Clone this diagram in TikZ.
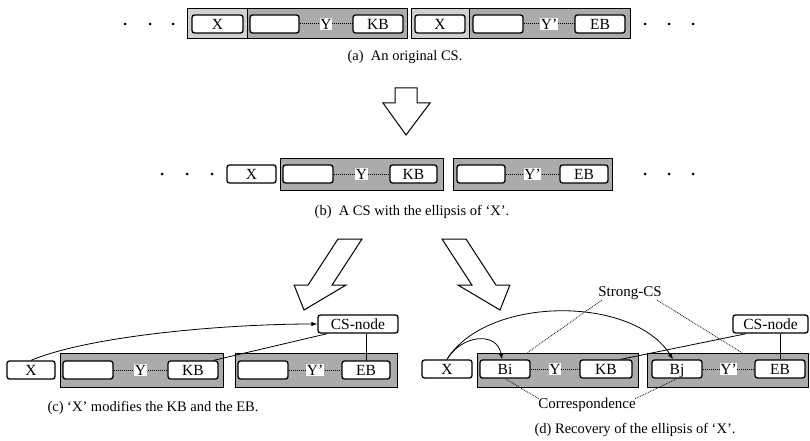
\documentclass[tikz,border=0pt]{standalone}
\usepackage{fontspec}
\setmainfont{Liberation Serif}
\usetikzlibrary{arrows.meta,calc}
\begin{document}
\begin{tikzpicture}[x=1pt,y=-1pt,
  every node/.style={font=\fontsize{15}{18}\selectfont},
  caption/.style={font=\fontsize{14.5}{17}\selectfont},
  cell/.style={draw, line width=1.3pt, rounded corners=2.5pt, fill=white, minimum height=18pt, minimum width=50pt, inner sep=0pt, text height=10.3pt, text depth=0pt, font=\fontsize{15.5}{18}\selectfont},
  csbox/.style={draw, line width=1pt, fill=black!33, minimum height=34pt, inner sep=0pt},
  xcellbox/.style={draw, line width=1pt, fill=black!18, minimum height=30pt, inner sep=0pt},
  ylab/.style={fill=white, inner sep=0.6pt, text height=10.3pt, text depth=0pt, font=\fontsize{15.5}{18}\selectfont},
  ydots/.style={densely dotted, line width=1pt},
  dotmark/.style={circle, fill=black, inner sep=0pt, minimum size=3pt},
  link/.style={line width=0.8pt},
  tipped/.style={-{Latex[length=6pt,width=4.5pt]}},
  dotlink/.style={densely dotted, line width=0.8pt},
  blockarrow/.style={draw, line width=1pt, fill=white, line join=miter},
]
\useasboundingbox (0,0) rectangle (810,441);

% ---------- (a) ----------
\foreach \i/\x in {1/125,2/150,3/173} \node[dotmark] (adl\i) at (\x,24) {};
\foreach \i/\x in {1/645,2/669,3/693} \node[dotmark] (adr\i) at (\x,24) {};
\node[xcellbox, minimum width=60pt] (aXc1) at (217,24) {};
\node[csbox, minimum height=30pt, minimum width=160pt] (aC1) at (327,24) {};
\node[xcellbox, minimum width=58pt] (aXc2) at (440,24) {};
\node[csbox, minimum height=30pt, minimum width=161pt] (aC2) at (549.5,24) {};
\node[cell, minimum width=51pt] (aX1) at (217.5,24) {X};
\node[cell, minimum width=49pt] (aE1) at (274.5,24) {};
\node[cell] (aKB) at (378,24) {KB};
\node[cell] (aX2) at (440,24) {X};
\node[cell] (aE2) at (498,24) {};
\node[cell] (aEB) at (600,24) {EB};
\draw[ydots] (aE1) -- (aKB) node[midway, ylab] {Y};
\draw[ydots] (aE2) -- (aEB) node[midway, ylab] {Y'};
\node[caption] (capA) at (405,57) {(a)~~An original CS.};

\draw[blockarrow] (395,88) -- (417,88) -- (417,103) -- (430,103) -- (406,135) -- (383,103) -- (395,103) -- cycle;

% ---------- (b) ----------
\foreach \i/\x in {1/162,2/187,3/212} \node[dotmark] (bdl\i) at (\x,174) {};
\foreach \i/\x in {1/645,2/669,3/693} \node[dotmark] (bdr\i) at (\x,174) {};
\node[cell, minimum width=49pt] (bX) at (251.5,174) {X};
\node[csbox, minimum width=163pt, minimum height=32pt] (bC1) at (361.5,174) {};
\node[csbox, minimum width=159pt, minimum height=32pt] (bC2) at (532.5,174) {};
\node[cell] (bE1) at (308,174) {};
\node[cell, minimum width=47pt] (bKB) at (413.5,174) {KB};
\node[cell, minimum width=48pt] (bE2) at (481,174) {};
\node[cell, minimum width=48pt] (bEB) at (584,174) {EB};
\draw[ydots] (bE1) -- (bKB) node[midway, ylab] {Y};
\draw[ydots] (bE2) -- (bEB) node[midway, ylab] {Y'};
\node[caption] (capB) at (412,212) {(b)~~A CS with the ellipsis of `X'.};

% slanted block arrows (sheared down arrows)
\draw[blockarrow] (338,239) -- (362,239) -- (332.1,285) -- (346.1,285) -- (304,310) -- (294.1,285) -- (308.1,285) -- cycle;
\draw[blockarrow] (466,239) -- (442,239) -- (471.9,285) -- (457.9,285) -- (500,310) -- (509.9,285) -- (495.9,285) -- cycle;

% ---------- (c) ----------
\node[cell, minimum width=48pt] (cX) at (31,370) {X};
\node[csbox, minimum width=163pt] (cC1) at (141.5,370) {};
\node[csbox, minimum width=162pt] (cC2) at (316,370) {};
\node[cell] (cE1) at (88,370) {};
\node[cell] (cKB) at (193,370) {KB};
\node[cell] (cE2) at (263,370) {};
\node[cell, minimum width=48pt] (cEB) at (366,370) {EB};
\node[cell, minimum width=80pt] (cCS) at (358,324) {CS-node};
\draw[ydots] (cE1) -- (cKB) node[midway, ylab] {Y};
\draw[ydots] (cE2) -- (cEB) node[midway, ylab] {Y'};
\draw[link, tipped] (cX.north) .. controls +(60,-25) and +(-90,0) .. (cCS.west);
\draw[link] ($(cKB.north east)+(-5,0)$) -- ($(cCS.south west)+(10,0)$);
\draw[link] (cEB.north) -- (cEB.north |- cCS.south);
\node[caption] (capC) at (153,408) {(c) `X' modifies the KB and the EB.};

% ---------- (d) ----------
\node[cell] (dX) at (447,369) {X};
\node[csbox, minimum width=161pt] (dC1) at (557.5,370) {};
\node[csbox, minimum width=161pt] (dC2) at (727.5,370) {};
\node[cell] (dBi) at (505,369) {Bi};
\node[cell, minimum width=52pt] (dKB) at (606,369) {KB};
\node[cell] (dBj) at (677,369) {Bj};
\node[cell] (dEB) at (780,369) {EB};
\node[cell, minimum width=75pt] (dCS) at (770.5,324) {CS-node};
\draw[ydots] (dBi) -- (dKB) node[midway, ylab] {Y};
\draw[ydots] (dBj) -- (dEB) node[midway, ylab] {Y'};
\draw[link, tipped] (dX.north) .. controls +(40,-64) and +(-40,-64) .. ($(dBj.north)+(-4,0)$);
\draw[link, tipped] (dX.north) .. controls +(15,-25) and +(-5,-28) .. ($(dBi.north)+(-3,0)$);
\draw[link] ($(dKB.north east)+(-12,0)$) -- ($(dCS.south west)+(14,0)$);
\draw[link] (dEB.north) -- (dEB.north |- dCS.south);
\node (strong) at (630,293) {Strong-CS};
\draw[dotlink] ($(strong.south west)+(7,-3)$) -- ($(dC1.north west)+(51,0)$);
\draw[dotlink] ($(strong.south east)+(-8,-3)$) -- ($(dC2.north west)+(95,0)$);
\node (corr) at (587,405) {Correspondence};
\draw[dotlink] ($(corr.north west)+(4,4)$) -- (dBi.south);
\draw[dotlink] ($(corr.north east)+(-4,4)$) -- (dBj.south);
\node[caption] (capD) at (635,430) {(d) Recovery of the ellipsis of `X'.};
\end{tikzpicture}
\end{document}
